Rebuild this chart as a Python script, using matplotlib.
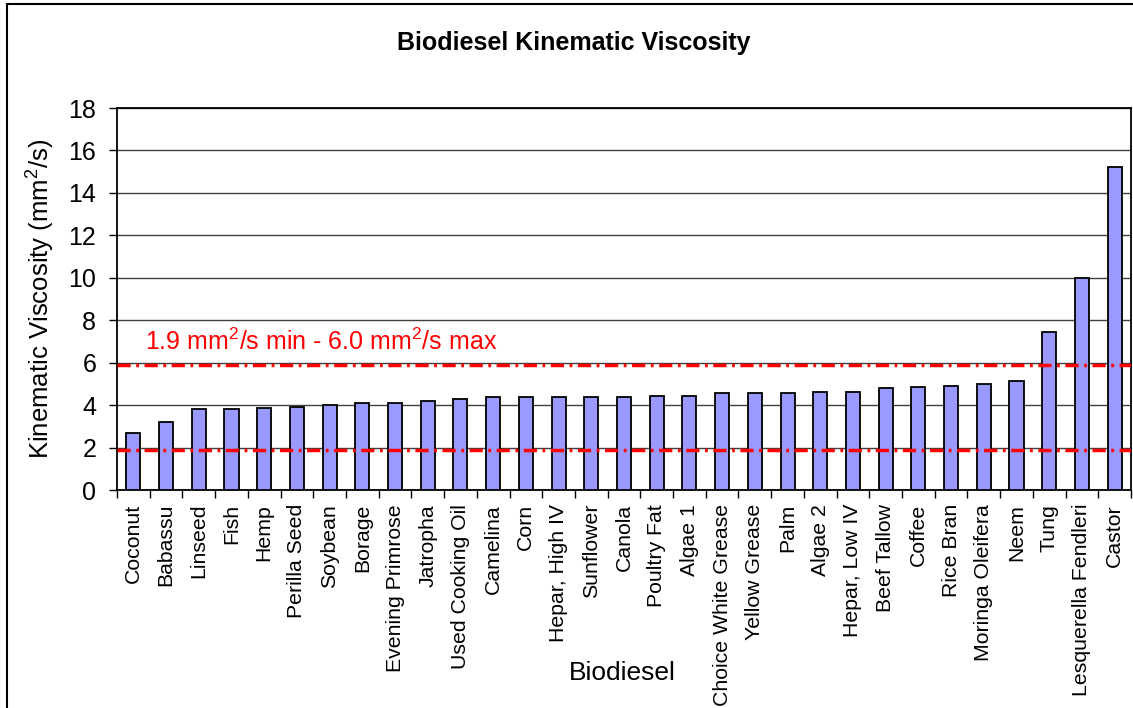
import matplotlib
matplotlib.use("Agg")
import matplotlib.pyplot as plt
from matplotlib.patches import Rectangle
import numpy as np

categories = ["Coconut", "Babassu", "Linseed", "Fish", "Hemp", "Perilla Seed", "Soybean",
              "Borage", "Evening Primrose", "Jatropha", "Used Cooking Oil", "Camelina", "Corn",
              "Hepar, High IV", "Sunflower", "Canola", "Poultry Fat", "Algae 1",
              "Choice White Grease", "Yellow Grease", "Palm", "Algae 2", "Hepar, Low IV",
              "Beef Tallow", "Coffee", "Rice Bran", "Moringa Oleifera", "Neem", "Tung",
              "Lesquerella Fendleri", "Castor"]
viscosity = [2.7, 3.2, 3.8, 3.8, 3.85, 3.9, 4.0,
             4.1, 4.1, 4.2, 4.3, 4.4, 4.4,
             4.4, 4.4, 4.4, 4.45, 4.45,
             4.55, 4.55, 4.55, 4.6, 4.6,
             4.8, 4.85, 4.9, 5.0, 5.15, 7.45,
             10.0, 15.2]
spec_min = 1.9
spec_max = 5.9
yticks = [0, 2, 4, 6, 8, 10, 12, 14, 16, 18]

plt.rcParams['font.family'] = ['Liberation Sans', 'DejaVu Sans']
plt.rcParams['mathtext.default'] = 'regular'
plt.rcParams['lines.scale_dashes'] = False

W, H = 1133, 708
fig = plt.figure(figsize=(W / 100, H / 100), dpi=100)
ax = fig.add_axes([117 / W, 1 - 490 / H, (1131 - 117) / W, (490 - 108) / H])

# figure border
fig.patches.append(Rectangle((7 / W, -0.05), 1.2, (H - 4) / H + 0.05,
                             transform=fig.transFigure, fill=False,
                             edgecolor='black', linewidth=1.5))

x = np.arange(len(categories))
ax.bar(x, viscosity, width=0.43, color='#9999FF', edgecolor='black', linewidth=1.3, zorder=3)

ax.set_xlim(-0.5, len(categories) - 0.5)
ax.set_ylim(0, 18)
ax.set_yticks(yticks)
ax.yaxis.grid(True, color='#404040', linewidth=1.0, zorder=0)
ax.tick_params(axis='y', labelsize=18, length=6, width=1, direction='out', pad=9)

ax.set_xticks(x)
ax.set_xticklabels(categories, rotation=90, fontsize=15.3)
ax.tick_params(axis='x', which='major', length=0, pad=10)
ax.set_xticks(np.arange(len(categories) + 1) - 0.5, minor=True)
ax.tick_params(axis='x', which='minor', length=6, width=1, direction='out')

for s in ax.spines.values():
    s.set_linewidth(1.3)
    s.set_color('black')

for yv in (spec_min, spec_max):
    ax.axhline(yv, color='#FF0000', linewidth=2.5, zorder=4,
               dashes=(9.5, 4, 2, 4))

fig.text(145 / W, 1 - 350 / H, '1.9 mm$^2$/s min - 6.0 mm$^2$/s max', color='#FF0000',
         fontsize=18, va='baseline', ha='left')

fig.text(574 / W, 1 - 43 / H, 'Biodiesel Kinematic Viscosity', fontsize=18, fontweight='bold',
         ha='center', va='center')
ax.set_ylabel('Kinematic Viscosity (mm$^2$/s)', fontsize=18.5, labelpad=8)
fig.text(622 / W, 1 - 673 / H, 'Biodiesel', fontsize=19, ha='center', va='center')

fig.savefig('out.png', dpi=100)
